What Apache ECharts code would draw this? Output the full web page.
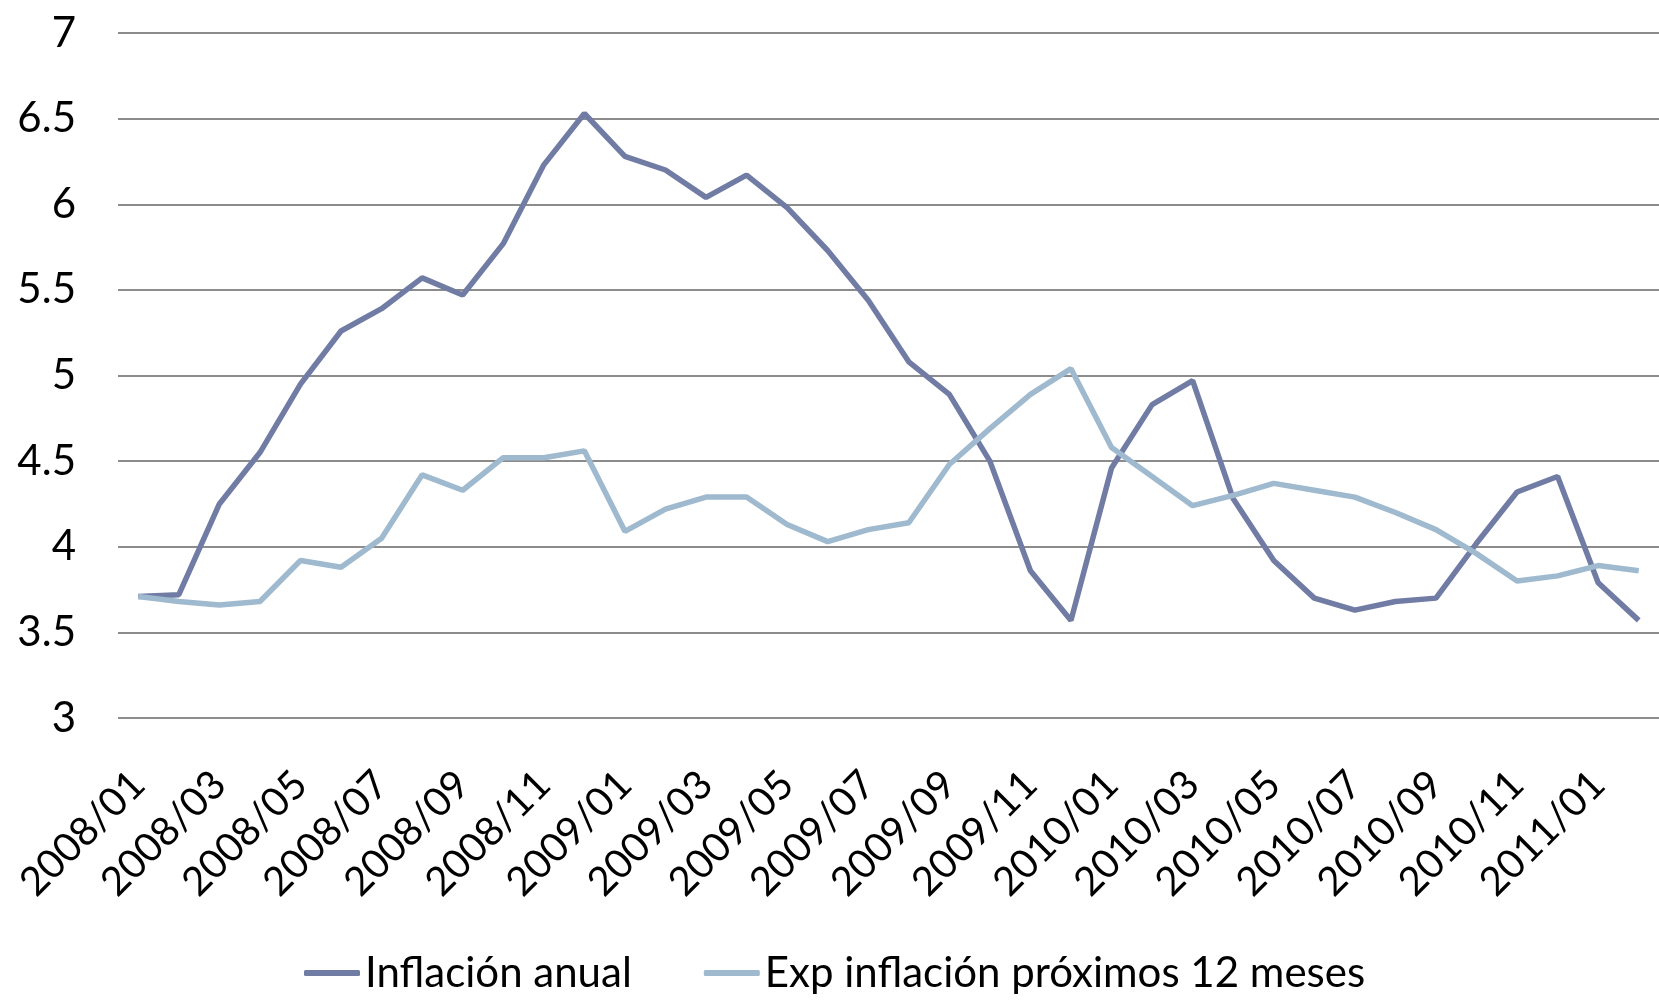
<!DOCTYPE html>
<html>
<head>
<meta charset="utf-8">
<title>Inflación</title>
<script src="https://cdn.jsdelivr.net/npm/echarts@6/dist/echarts.min.js"></script>
<style>
  html, body { margin: 0; padding: 0; background: #fff; }
  #main { width: 1659px; height: 1003px; }
</style>
</head>
<body>
<div id="main"></div>
<script>
// months 2008/01 .. 2011/02
var meses = [
    '2008/01', '2008/02', '2008/03', '2008/04', '2008/05', '2008/06',
    '2008/07', '2008/08', '2008/09', '2008/10', '2008/11', '2008/12',
    '2009/01', '2009/02', '2009/03', '2009/04', '2009/05', '2009/06',
    '2009/07', '2009/08', '2009/09', '2009/10', '2009/11', '2009/12',
    '2010/01', '2010/02', '2010/03', '2010/04', '2010/05', '2010/06',
    '2010/07', '2010/08', '2010/09', '2010/10', '2010/11', '2010/12',
    '2011/01', '2011/02'
];

var inflacionAnual = [
    3.71, 3.72, 4.25, 4.55, 4.95, 5.26, 5.39, 5.57, 5.47, 5.77, 6.23, 6.53,
    6.28, 6.20, 6.04, 6.17, 5.98, 5.73, 5.44, 5.08, 4.89, 4.50, 3.86, 3.57,
    4.46, 4.83, 4.97, 4.28, 3.92, 3.70, 3.63, 3.68, 3.70, 4.02, 4.32, 4.41,
    3.79, 3.57
];

var expInflacion = [
    3.71, 3.68, 3.66, 3.68, 3.92, 3.88, 4.05, 4.42, 4.33, 4.52, 4.52, 4.56,
    4.09, 4.22, 4.29, 4.29, 4.13, 4.03, 4.10, 4.14, 4.48, 4.69, 4.89, 5.04,
    4.58, 4.41, 4.24, 4.30, 4.37, 4.33, 4.29, 4.20, 4.10, 3.96, 3.80, 3.83,
    3.89, 3.86
];

var fuente = 'Lato, "Open Sans", sans-serif';

var dom = document.getElementById('main');
var myChart = echarts.init(dom, null, { renderer: 'canvas' });

var option = {
    animation: false,
    backgroundColor: '#ffffff',
    grid: {
        left: 118,
        right: -12,
        top: 33,
        bottom: 285,
        containLabel: false
    },
    legend: {
        left: 304,
        top: 952,
        padding: 0,
        icon: 'roundRect',
        itemWidth: 56,
        itemHeight: 6,
        itemGap: 72,
        textStyle: { fontFamily: fuente, fontSize: 42, color: '#000' },
        data: ['Inflación anual', 'Exp inflación próximos 12 meses']
    },
    xAxis: {
        type: 'category',
        data: meses,
        boundaryGap: true,
        axisLine: { show: false },
        axisTick: { show: false },
        axisLabel: {
            interval: 1,
            rotate: 45,
            margin: 60,
            fontFamily: fuente,
            fontSize: 40,
            color: '#000'
        }
    },
    yAxis: {
        type: 'value',
        min: 3,
        max: 7,
        interval: 0.5,
        axisLine: { show: false },
        axisTick: { show: false },
        splitLine: { lineStyle: { color: '#8c8c8c', width: 2 } },
        axisLabel: {
            margin: 42,
            fontFamily: fuente,
            fontSize: 42,
            color: '#000'
        }
    },
    series: [
        {
            name: 'Inflación anual',
            type: 'line',
            symbol: 'none',
            data: inflacionAnual,
            lineStyle: { color: '#717ca5', width: 5.5 },
            itemStyle: { color: '#717ca5' }
        },
        {
            name: 'Exp inflación próximos 12 meses',
            type: 'line',
            symbol: 'none',
            data: expInflacion,
            lineStyle: { color: '#9fb9cf', width: 5.5 },
            itemStyle: { color: '#9fb9cf' }
        }
    ]
};

myChart.setOption(option);
window.addEventListener('resize', myChart.resize);
</script>
</body>
</html>
